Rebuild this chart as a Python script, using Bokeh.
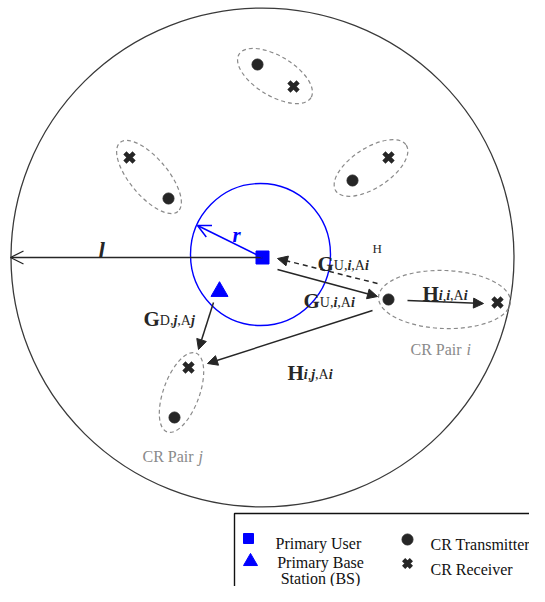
import numpy as np
from bokeh.plotting import figure
from bokeh.models import Range1d, Arrow, NormalHead, OpenHead
from bokeh.core.properties import value
from bokeh.embed import file_html
from bokeh.resources import INLINE

IMG_W, IMG_H = 545, 602
FIG_W, FIG_H = IMG_W - 16, IMG_H - 16
def fy(y):
    return IMG_H - np.asarray(y, dtype=float)

SERIF = value("Liberation Serif")
DARK = "#262626"
BLUE = "#0000ff"
GRAY = "#8a8a8a"

# ---- scene data (reference pixel coordinates) ----
cell_center = (262, 257)
cell_size = (503, 499)
pu_range_center = (260, 254)
pu_range_size = (140, 142)

pu_x, pu_y = [262], [257]          # primary user
bs_x, bs_y = [219], [291]          # primary base station

tx_x = [388, 174, 257, 168, 352]   # CR transmitters
tx_y = [299, 417, 64, 198, 180]
rx_x = [497, 188, 293, 129, 388]   # CR receivers
rx_y = [302, 367, 86, 157, 157]

pair_cx = [444, 181, 274.5, 148.5, 370.5]
pair_cy = [299, 392, 75.5, 176.5, 167.5]
pair_w = [132, 84, 84, 90, 84]
pair_h = [58, 36, 40, 38, 40]
pair_angle = [-2, 70, -31, -50, 33]

# arrows: (x0, y0, x1, y1)
arrow_solid = [
    (277, 269, 377, 296),   # G_U
    (407, 300, 483, 303),   # H_ii
    (372, 310, 207, 363),   # H_ij
    (213, 302, 198, 349),   # G_D
]
arrow_dashed = [(377, 283, 277, 258)]  # G_U^H
arrow_l = (262, 257, 10, 257)
arrow_r = (262, 257, 197, 225)

p = figure(width=FIG_W, height=FIG_H, output_backend="svg",
           toolbar_location=None, x_range=Range1d(0, FIG_W),
           y_range=Range1d(IMG_H - FIG_H, IMG_H), min_border=0,
           x_axis_location=None, y_axis_location=None)
p.grid.visible = False
p.outline_line_color = None
p.background_fill_color = "white"
p.border_fill_color = "white"

# big cell
p.ellipse(x=[cell_center[0]], y=fy([cell_center[1]]), width=cell_size[0], height=cell_size[1],
          fill_color=None, line_color="#3a3a3a", line_width=1.3)
# PU protection range
p.ellipse(x=[pu_range_center[0]], y=fy([pu_range_center[1]]), width=pu_range_size[0],
          height=pu_range_size[1], fill_color=None, line_color=BLUE, line_width=1.4)

# pair ellipses
p.ellipse(x=pair_cx, y=fy(pair_cy), width=pair_w, height=pair_h, angle=pair_angle,
          angle_units="deg", fill_color=None, line_color=GRAY, line_width=1.2, line_dash="4 3")

# arrows
for (x0, y0, x1, y1) in arrow_solid:
    p.add_layout(Arrow(end=NormalHead(size=10, fill_color=DARK, line_color=DARK),
                       x_start=x0, y_start=float(fy(y0)), x_end=x1, y_end=float(fy(y1)),
                       line_color=DARK, line_width=1.5))
for (x0, y0, x1, y1) in arrow_dashed:
    p.add_layout(Arrow(end=NormalHead(size=10, fill_color=DARK, line_color=DARK),
                       x_start=x0, y_start=float(fy(y0)), x_end=x1, y_end=float(fy(y1)),
                       line_color=DARK, line_width=1.5, line_dash="5 4"))
x0, y0, x1, y1 = arrow_l
p.add_layout(Arrow(end=OpenHead(size=13, line_color=DARK, line_width=1.3),
                   x_start=x0, y_start=float(fy(y0)), x_end=x1, y_end=float(fy(y1)),
                   line_color=DARK, line_width=1.4))
x0, y0, x1, y1 = arrow_r
p.add_layout(Arrow(end=OpenHead(size=13, line_color=BLUE, line_width=1.5),
                   x_start=x0, y_start=float(fy(y0)), x_end=x1, y_end=float(fy(y1)),
                   line_color=BLUE, line_width=1.6))

# markers
p.scatter(x=tx_x, y=fy(tx_y), marker="circle", size=11, fill_color=DARK, line_color=DARK)
p.scatter(x=rx_x, y=fy(rx_y), marker="x", size=13, line_color=DARK, line_width=4.5)
p.scatter(x=pu_x, y=fy(pu_y), marker="square", size=13, fill_color=BLUE, line_color=BLUE)
p.scatter(x=bs_x, y=fy(bs_y), marker="triangle", size=17, fill_color=BLUE, line_color=BLUE)

# text helpers
W = {"G": 0.778, "H": 0.778, "U": 0.722, "A": 0.722, "D": 0.722, ",": 0.25, "i": 0.278, "j": 0.278}

def runs(x, base, parts, color=DARK):
    for txt, size, style, dy in parts:
        p.text(x=[x], y=fy([base + dy]), text=[txt], text_font=SERIF, text_font_size=f"{size}px",
               text_font_style=style, text_color=color, text_baseline="alphabetic", text_align="left")
        x += sum(W.get(c, 0.5) for c in txt) * size

def sub(letters):
    out = []
    for t in letters:
        if t in ("i", "j"):
            out.append((t, 14, "bold italic", 2))
        else:
            out.append((t, 14, "normal", 2))
    return out

runs(317, 263, [("G", 21, "bold", 0)] + sub(["U,", "i", ",A", "i"]))
runs(372, 248, [("H", 13, "normal", 0)])
runs(303, 300, [("G", 21, "bold", 0)] + sub(["U,", "i", ",A", "i"]))
runs(422, 293, [("H", 21, "bold", 0)] + sub(["i", ",", "i", ",A", "i"]))
runs(287, 372, [("H", 21, "bold", 0)] + sub(["i", ",", "j", ",A", "i"]))
runs(143, 318, [("G", 21, "bold", 0)] + sub(["D,", "j", ",A", "j"]))

p.text(x=[98], y=fy([250]), text=["l"], text_font=SERIF, text_font_size="23px",
       text_font_style="bold italic", text_color=DARK, text_baseline="alphabetic")
p.text(x=[232], y=fy([234]), text=["r"], text_font=SERIF, text_font_size="21px",
       text_font_style="bold italic", text_color=BLUE, text_baseline="alphabetic")

p.text(x=[410], y=fy([349]), text=["CR Pair "], text_font=SERIF, text_font_size="16px",
       text_color=GRAY, text_baseline="alphabetic")
p.text(x=[466], y=fy([349]), text=["i"], text_font=SERIF, text_font_size="16px",
       text_font_style="italic", text_color=GRAY, text_baseline="alphabetic")
p.text(x=[142], y=fy([456]), text=["CR Pair "], text_font=SERIF, text_font_size="16px",
       text_color=GRAY, text_baseline="alphabetic")
p.text(x=[198], y=fy([456]), text=["j"], text_font=SERIF, text_font_size="16px",
       text_font_style="italic", text_color=GRAY, text_baseline="alphabetic")

# legend box
p.quad(left=[234], right=[600], top=fy([513]), bottom=fy([650]), fill_color="white",
       line_color="#111111", line_width=1.4)
p.scatter(x=[248], y=fy([538]), marker="square", size=10, fill_color=BLUE, line_color=BLUE)
p.scatter(x=[250], y=fy([561]), marker="triangle", size=14, fill_color=BLUE, line_color=BLUE)
p.scatter(x=[407], y=fy([539]), marker="circle", size=11, fill_color=DARK, line_color=DARK)
p.scatter(x=[407], y=fy([563]), marker="x", size=11, line_color=DARK, line_width=4.5)

leg_x = [275, 320, 320, 430, 430]
leg_y = [543, 562, 578, 544, 569]
leg_t = ["Primary User", "Primary Base", "Station (BS)", "CR Transmitter", "CR Receiver"]
leg_a = ["left", "center", "center", "left", "left"]
p.text(x=leg_x, y=fy(leg_y), text=leg_t, text_align=leg_a, text_font=SERIF,
       text_font_size="16px", text_color="#111111", text_baseline="alphabetic")

open("out.html", "w").write(file_html(p, INLINE))
